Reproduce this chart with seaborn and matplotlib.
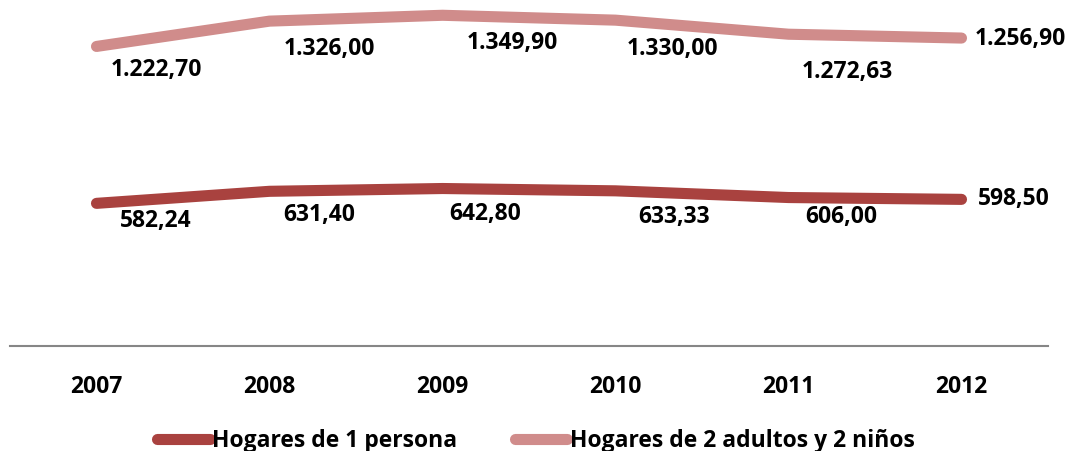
import matplotlib.pyplot as plt
import seaborn as sns
import pandas as pd

# Data
years = ["2007", "2008", "2009", "2010", "2011", "2012"]
hogares_1 = [582.24, 631.40, 642.80, 633.33, 606.00, 598.50]
hogares_2 = [1222.70, 1326.00, 1349.90, 1330.00, 1272.63, 1256.90]
series_names = ["Hogares de 1 persona", "Hogares de 2 adultos y 2 niños"]


def fmt_es(v):
    s = f"{v:,.2f}"
    return s.replace(",", "X").replace(".", ",").replace("X", ".")


df = pd.DataFrame({
    "year": years * 2,
    "value": hogares_1 + hogares_2,
    "serie": [series_names[0]] * 6 + [series_names[1]] * 6,
})

sns.set_style("white")
plt.rcParams['font.family'] = ['Open Sans', 'DejaVu Sans']
plt.rcParams['text.color'] = 'black'
plt.rcParams['xtick.color'] = 'black'
FS = 16.5

fig = plt.figure(figsize=(10.72, 4.51), dpi=100)
ax = fig.add_axes([10 / 1072, 105 / 451, 1038 / 1072, 343 / 451])

palette = {series_names[0]: "#A9423F", series_names[1]: "#D08C8B"}
sns.lineplot(data=df, x="year", y="value", hue="serie", palette=palette,
             linewidth=8, ax=ax, legend=False, sort=False)
for line in ax.get_lines():
    line.set_solid_capstyle("round")

ax.set_xlim(-0.5, 5.5)
ax.set_ylim(0, 1400)
ax.set_yticks([])
ax.set_xlabel("")
ax.set_ylabel("")
for side in ["top", "right", "left"]:
    ax.spines[side].set_visible(False)
ax.spines["bottom"].set_color("#868686")
ax.spines["bottom"].set_linewidth(1.5)
ax.tick_params(axis="x", length=0, pad=21, labelcolor="black")
for lbl in ax.get_xticklabels():
    lbl.set_fontsize(FS)
    lbl.set_fontweight("bold")

# value labels (offsets in points)
off_top = [(43, -17), (43, -20), (50, -20), (41, -21), (42, -27), (42, -1)]
off_bot = [(43, -13), (36, -17), (31, -18), (42, -19), (38, -14), (38, 0)]
for i, (v1, v2) in enumerate(zip(hogares_1, hogares_2)):
    ax.annotate(fmt_es(v2), (i, v2), xytext=off_top[i], textcoords="offset points",
                ha="center", va="center", fontsize=FS, fontweight="bold", color="black")
    ax.annotate(fmt_es(v1), (i, v1), xytext=off_bot[i], textcoords="offset points",
                ha="center", va="center", fontsize=FS, fontweight="bold", color="black")

handles = [plt.Line2D([], [], color=palette[n], linewidth=8, solid_capstyle="round")
           for n in series_names]
fig.legend(handles, series_names, loc="center", bbox_to_anchor=(0.5, 0.022),
           ncol=2, frameon=False, handlelength=2.3, handletextpad=0.1,
           columnspacing=2.5, prop={"size": FS, "weight": "bold"}, labelcolor="black")

fig.savefig("out.png", dpi=100)
